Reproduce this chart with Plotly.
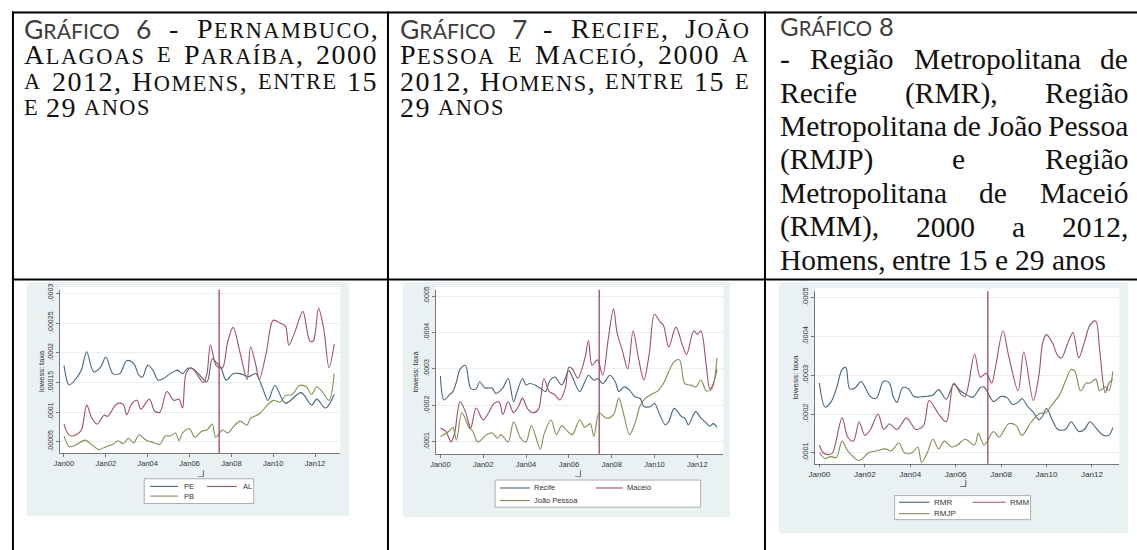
import plotly.graph_objects as go

W, H = 1137, 550

# ---------------------------------------------------------------- data
TICK_MONTHS = [0, 24, 48, 72, 96, 120, 144]
TICK_TEXT = ["Jan00", "Jan02", "Jan04", "Jan06", "Jan08", "Jan10", "Jan12"]
VLINE_MONTH = 89          # Jun 2007
Y_TITLE = "lowess: taxa"
X_TITLE = "_j"
UNIT = 1e-5               # series values below are in units of 1e-5

# Gráfico 6 : PE, AL, PB
PE_M = [0,3,7,10,13,17,21,24,28,32,36,40,43,45,48,51,54,57,61,65,68,71,74,77,82,85,87,90,93,97,101,106,110,114,117,121,127,136,142,145,150,155]
PE_V = [17.9,14.6,15.7,17.1,20.2,16.8,17.6,19.3,16.5,16.5,18.7,18.2,16.2,15.9,17.9,17.1,15.4,15.7,16.5,17.1,16.5,17.4,17.3,16.5,15.1,19.0,18.5,17.5,15.4,16.5,16.5,16.0,16.5,14.0,12.0,14.5,11.5,13.3,11.2,12.2,10.7,13.0]
AL_M = [0,2,4,7,10,13,16,19,23,25,29,31,34,36,39,42,44,49,52,55,59,63,66,68,70,73,76,80,82,84,87,89,91,94,97,101,105,107,110,112,116,120,124,127,129,133,137,141,143,146,149,152,155]
AL_V = [8.0,6.5,6.0,6.2,7.0,11.2,9.0,8.0,9.5,9.3,11.0,11.5,11.3,9.6,11.5,12.0,10.5,12.2,10.2,10.0,13.5,12.0,12.2,10.7,16.5,17.5,16.5,15.0,16.5,21.3,18.0,17.5,17.5,22.0,24.3,20.0,15.5,21.0,18.0,15.5,20.0,25.5,25.0,24.5,21.3,24.0,27.0,22.0,22.0,27.5,24.0,17.5,21.5]
PB_M = [0,3,7,12,16,20,24,28,31,34,37,40,43,47,50,55,58,61,64,66,68,72,75,79,82,85,87,91,94,97,101,105,107,112,116,120,124,127,131,135,139,142,145,148,152,155]
PB_V = [6.0,4.2,4.5,5.3,4.5,3.7,4.2,4.6,5.2,4.7,5.6,4.8,6.2,5.3,5.0,4.6,6.0,6.0,6.5,5.2,6.5,7.2,5.8,6.8,7.0,8.0,5.8,7.0,6.5,7.5,8.5,7.8,9.0,9.7,11.0,12.0,11.7,12.8,13.0,14.5,14.3,13.0,14.3,13.5,12.0,16.5]

# Gráfico 7 : Recife, Maceió, João Pessoa
REC_M = [0,2,5,7,9,11,14,17,20,22,25,29,31,33,35,38,41,43,46,48,50,53,56,59,61,64,68,72,74,78,81,83,86,88,91,95,98,100,103,106,109,112,114,118,120,123,126,128,131,135,137,139,143,146,149,151,153,155]
REC_V = [28.1,21.5,22.9,23.8,26.5,29.9,31.0,24.7,24.5,26.5,24.8,24.8,23.3,23.8,24.8,27.4,21.0,23.8,27.4,25.6,26.0,25.6,24.7,23.8,26.5,27.8,25.6,29.6,27.8,23.8,26.5,28.3,26.9,27.4,26.0,28.3,26.5,23.8,25.1,24.2,22.4,21.9,19.7,19.7,20.6,17.4,14.7,15.6,19.2,17.0,16.5,14.7,18.3,16.5,15.2,14.3,15.0,14.0]
MAC_M = [0,3,6,8,11,14,17,20,24,27,30,33,35,38,41,44,46,49,52,55,58,61,64,67,70,72,74,77,81,83,85,88,91,94,97,99,102,105,108,111,114,117,120,123,125,128,132,136,138,142,144,146,149,151,153,155]
MAC_V = [13.8,12.9,10.0,12.5,21.0,18.3,13.8,19.3,16.0,18.0,20.5,20.9,17.5,21.0,18.0,20.0,22.0,19.0,18.0,19.0,27.4,23.8,23.0,21.5,24.7,30.5,30.0,27.5,33.0,37.8,31.0,32.5,28.3,38.0,46.5,40.0,35.0,30.0,40.5,33.0,27.0,34.0,45.0,43.0,42.0,36.0,41.5,36.0,34.0,40.5,39.5,40.5,31.0,24.5,26.0,30.0]
JP_M = [0,5,7,9,12,16,18,21,26,29,32,34,38,41,45,48,51,56,58,62,65,68,71,74,78,81,84,86,89,93,97,100,103,106,109,112,115,120,122,125,131,134,137,141,143,146,149,152,155]
JP_V = [11.5,13.0,14.0,10.5,18.0,14.0,13.0,10.0,12.0,12.5,11.0,12.0,10.0,15.5,11.0,10.0,14.5,8.0,12.0,16.0,12.0,14.5,13.0,12.0,16.0,14.0,15.0,11.5,18.0,16.5,17.5,22.0,17.0,12.0,15.0,20.0,22.0,23.5,24.0,26.0,32.0,32.5,26.0,25.5,25.0,27.0,24.0,24.5,33.0]

# Gráfico 8 : RMR, RMM, RMJP
RMR_M = [0,3,6,9,12,14,16,19,22,27,30,34,37,39,41,44,47,50,55,60,63,67,71,74,77,81,85,87,90,92,96,99,102,105,107,110,113,116,118,120,123,126,130,133,137,140,143,146,150,153,155]
RMR_V = [28.0,21.8,23.0,26.6,31.5,32.0,26.5,26.8,28.4,24.5,24.0,28.5,28.0,24.5,23.0,26.8,26.5,24.5,24.5,24.9,26.3,23.8,27.7,26.2,25.2,24.3,26.8,27.0,24.5,23.2,24.5,24.3,22.5,23.0,24.0,22.0,20.5,18.5,19.5,21.5,18.5,16.0,16.0,18.0,15.5,16.0,18.0,16.5,14.5,14.5,16.5]
RMM_M = [0,2,5,7,12,15,18,21,24,27,31,34,37,41,46,51,55,58,63,67,71,75,77,82,85,88,91,93,97,100,105,108,113,116,118,120,123,126,128,131,134,137,140,143,146,148,151,153,155]
RMM_V = [12.0,10.0,9.5,10.0,19.0,14.0,13.0,18.0,14.5,16.0,20.0,16.0,17.5,16.0,19.0,16.0,17.0,23.5,20.0,18.0,28.0,25.0,24.5,35.5,29.5,30.5,28.0,32.0,41.5,35.0,26.0,36.0,23.5,30.0,38.5,40.5,38.5,35.0,34.5,38.0,41.0,34.5,38.5,43.0,44.0,37.0,25.5,28.0,29.0]
RMJP_M = [0,3,6,9,12,15,21,26,30,35,38,42,45,49,52,54,57,60,63,66,70,73,77,82,84,87,92,95,100,104,107,112,116,120,123,127,130,133,135,138,141,143,146,148,151,153,155]
RMJP_V = [10.0,8.5,9.0,8.8,13.0,10.5,8.0,10.0,10.5,11.0,10.5,12.5,10.0,10.0,11.5,7.5,10.0,13.5,11.0,13.0,11.5,12.0,13.5,12.0,15.0,12.0,15.5,14.0,17.5,17.0,14.5,18.0,20.0,20.5,22.5,25.0,28.5,31.5,31.0,26.0,28.0,28.0,29.0,26.0,27.0,26.0,31.0]

Y1_TICKS = [5e-5, 10e-5, 15e-5, 20e-5, 25e-5, 30e-5]
Y1_TEXT = [".00005", ".0001", ".00015", ".0002", ".00025", ".0003"]
Y2_TICKS = [10e-5, 20e-5, 30e-5, 40e-5, 50e-5]
Y2_TEXT = [".0001", ".0002", ".0003", ".0004", ".0005"]

# header texts (line breaks as in the reference)
HEAD1 = ["Gráfico 6 - Pernambuco,", "Alagoas e Paraíba, 2000", "a 2012, Homens, entre 15", "e 29 anos"]
HEAD2 = ["Gráfico  7 - Recife, João", "Pessoa e Maceió, 2000 a", "2012, Homens, entre 15 e", "29 anos"]
HEAD3 = ["Gráfico 8", "- Região Metropolitana de", "Recife (RMR), Região", "Metropolitana de João Pessoa",
         "(RMJP) e Região", "Metropolitana de Maceió", "(RMM), 2000 a 2012,", "Homens, entre 15 e 29 anos"]

# ---------------------------------------------------------------- style
BLUE, RED, OLIVE = "#46657F", "#9E5062", "#7F8F55"
VLINE_COLOR = "#A3475E"
PANEL_BG = "#E9F1F3"
GRID = "#E3EBEE"
AXIS = "#5A5A5A"
SANS = "Liberation Sans, Arial, sans-serif"
SERIF = "Liberation Serif, Times New Roman, serif"
CAPFONT = "Lato, Carlito, sans-serif"


def px(x):
    return x / W


def py(y):
    return 1 - y / H


fig = go.Figure()
shapes, annotations = [], []

# ---------------------------------------------------------------- table
def hline(x0, x1, y, w=2):
    shapes.append(dict(type="line", xref="paper", yref="paper", x0=px(x0), x1=px(x1),
                       y0=py(y), y1=py(y), line=dict(color="black", width=w), layer="above"))


def vline(x, y0, y1, w=2):
    shapes.append(dict(type="line", xref="paper", yref="paper", x0=px(x), x1=px(x),
                       y0=py(y0), y1=py(y1), line=dict(color="black", width=w), layer="above"))


hline(6, 1137, 6.5)
hline(6, 1137, 276.5)
vline(7, 5.5, 550)
vline(384, 5.5, 550)
vline(763, 5.5, 550)

TIMES = {' ': .25, ',': .25, '-': .333, '(': .333, ')': .333, '.': .25,
         'A': .722, 'B': .667, 'C': .667, 'D': .722, 'E': .611, 'F': .556, 'G': .722, 'H': .722,
         'I': .333, 'J': .389, 'K': .722, 'L': .611, 'M': .889, 'N': .722, 'O': .722, 'P': .556,
         'Q': .722, 'R': .667, 'S': .556, 'T': .611, 'U': .722, 'V': .722, 'W': .944, 'X': .722,
         'Y': .722, 'Z': .611, 'Á': .722, 'Ã': .722, 'Í': .333, 'Ó': .722,
         'a': .444, 'b': .5, 'c': .444, 'd': .5, 'e': .444, 'f': .333, 'g': .5, 'h': .5, 'i': .278,
         'j': .278, 'k': .5, 'l': .278, 'm': .778, 'n': .5, 'o': .5, 'p': .5, 'q': .5, 'r': .333,
         's': .389, 't': .278, 'u': .5, 'v': .5, 'w': .722, 'x': .5, 'y': .5, 'z': .444,
         'á': .444, 'ã': .444, 'í': .278, 'ó': .5}
for d in "0123456789":
    TIMES[d] = .5
LATO = {'G': .73, 'R': .64, 'Á': .68, 'F': .55, 'I': .28, 'C': .67, 'O': .78}
for d in "0123456789":
    LATO[d] = .58
SC = 0.8


def wwidth(word, size, smallcaps, table, ls):
    w = 0.0
    for ch in word:
        if smallcaps and ch.islower():
            w += table.get(ch.upper(), .6) * size * SC
        else:
            w += table.get(ch, .55) * size
    return w + ls * len(word)


def sc_markup(word, size, ls):
    out, buf = "", ""
    for ch in word:
        if ch.islower():
            buf += ch.upper()
        else:
            if buf:
                out += '<span style="font-size:%.1fpx">%s</span>' % (size * SC, buf)
                buf = ""
            out += ch
    if buf:
        out += '<span style="font-size:%.1fpx">%s</span>' % (size * SC, buf)
    if ls:
        out = '<span style="letter-spacing:%.1fpx">%s</span>' % (ls, out)
    return out


def layout_column(lines, left, right, ys, size, smallcaps, justify_flags, capsize, ls):
    for li, (text, yc, just) in enumerate(zip(lines, ys, justify_flags)):
        words = text.split()
        specs = []
        for wi, wd in enumerate(words):
            is_cap = li == 0 and wi < 2 and words[0] == "Gráfico"
            if is_cap:
                specs.append((wd, capsize, True, LATO, CAPFONT, "#3c3c3c", 0.0))
            else:
                specs.append((wd, size, smallcaps, TIMES, SERIF, "#111111", ls))
        widths = [wwidth(s[0], s[1], s[2], s[3], s[6]) for s in specs]
        if just and len(words) > 1:
            gap = (right - left - sum(widths)) / (len(words) - 1)
        else:
            gap = 0.25 * size
        x = left
        for (wd, sz, scp, tab, fam, col, l), wdt in zip(specs, widths):
            txt = sc_markup(wd, sz, l) if scp else wd
            annotations.append(dict(text=txt, x=px(x), y=py(yc), xref="paper", yref="paper",
                                    xanchor="left", yanchor="middle", showarrow=False, borderpad=0,
                                    font=dict(family=fam, size=sz, color=col)))
            x += wdt + gap


layout_column(HEAD1, 17, 373, [23, 49.5, 76, 102.5], 28, True, [True, True, True, False], 26.5, 1.5)
layout_column(HEAD2, 395, 747, [23, 49.5, 76, 102.5], 28, True, [True, True, True, False], 26.5, 1.5)
layout_column(HEAD3, 777, 1127, [20, 54, 88, 121, 155, 189, 223, 257], 29.5, False,
              [False, True, True, True, True, True, True, False], 25.5, 0.0)

# ---------------------------------------------------------------- panels
PANELS = [
    dict(bg=(21, 279, 345, 516), x0=58.3, s=1.7528, plot_y=(287, 452), yr=(3.117e-5, 30.617e-5),
         yt=Y1_TICKS, ytt=Y1_TEXT, ytitle_x=35.7, xtitle=(195.5, 471.7), fs=7.5,
         leg_box=(139, 478, 249, 503), leg_rows=(485.7, 495.5), leg_lines=((145, 173), (202, 232)),
         leg_lab=(178, 237.5),
         series=[("PE", PE_M, PE_V, BLUE), ("AL", AL_M, AL_V, RED), ("PB", PB_M, PB_V, OLIVE)]),
    dict(bg=(399, 279, 728, 517), x0=436.7, s=1.7938, plot_y=(287, 453), yr=(6.66e-5, 51.71e-5),
         yt=Y2_TICKS, ytt=Y2_TEXT, ytitle_x=411.7, xtitle=(575, 471.7), fs=7.5,
         leg_box=(491.7, 479.3, 698.3, 506.7), leg_rows=(487.3, 500), leg_lines=((496.7, 526.7), (593.3, 620)),
         leg_lab=(530, 623.3),
         series=[("Recife", REC_M, REC_V, BLUE), ("Maceió", MAC_M, MAC_V, RED),
                 ("João Pessoa", JP_M, JP_V, OLIVE)]),
    dict(bg=(777, 279, 1128, 533), x0=817.7, s=1.9028, plot_y=(288.3, 462.7), yr=(7.19e-5, 51.71e-5),
         yt=Y2_TICKS, ytt=Y2_TEXT, ytitle_x=793.3, xtitle=(961.7, 481), fs=8,
         leg_box=(893.3, 495, 1030, 519.3), leg_rows=(501.7, 513.3), leg_lines=((897.7, 928.3), (971.7, 1005)),
         leg_lab=(931.7, 1008.3),
         series=[("RMR", RMR_M, RMR_V, BLUE), ("RMM", RMM_M, RMM_V, RED), ("RMJP", RMJP_M, RMJP_V, OLIVE)]),
]

XR = (-2.5, 158.5)
lay_axes = {}
for k, P in enumerate(PANELS, start=1):
    bx0, by0, bx1, by1 = P["bg"]
    shapes.append(dict(type="rect", xref="paper", yref="paper", x0=px(bx0), x1=px(bx1), y0=py(by1), y1=py(by0),
                       fillcolor=PANEL_BG, line=dict(width=0), layer="below"))
    xl = P["x0"] + XR[0] * P["s"]
    xr = P["x0"] + XR[1] * P["s"]
    yt_, yb_ = P["plot_y"]
    shapes.append(dict(type="rect", xref="paper", yref="paper", x0=px(xl), x1=px(xr), y0=py(yb_), y1=py(yt_ - 3),
                       fillcolor="white", line=dict(width=0), layer="below"))
    sx = "" if k == 1 else str(k)
    lay_axes["xaxis" + sx] = dict(domain=[px(xl), px(xr)], range=list(XR), anchor="y" + sx,
                                  tickvals=TICK_MONTHS, ticktext=TICK_TEXT, showgrid=False, zeroline=False,
                                  showline=True, linecolor=AXIS, linewidth=0.8, ticks="outside", ticklen=3,
                                  tickwidth=0.8, tickcolor=AXIS, tickfont=dict(family=SANS, size=P["fs"], color="#333"),
                                  fixedrange=True)
    lay_axes["yaxis" + sx] = dict(domain=[py(yb_), py(yt_)], range=list(P["yr"]), anchor="x" + sx,
                                  tickvals=P["yt"], ticktext=P["ytt"], tickangle=-90, showgrid=True,
                                  gridcolor=GRID, gridwidth=0.8, zeroline=False, showline=True, linecolor=AXIS,
                                  linewidth=0.8, ticks="outside", ticklen=3, tickwidth=0.8, tickcolor=AXIS,
                                  tickfont=dict(family=SANS, size=P["fs"] - 0.5, color="#333"), fixedrange=True)
    for name, mm, vv, col in P["series"]:
        fig.add_trace(go.Scatter(x=mm, y=[v * UNIT for v in vv], mode="lines", name=name,
                                 line=dict(color=col, width=1.1, shape="spline", smoothing=0.9),
                                 xaxis="x" + sx, yaxis="y" + sx, showlegend=False, hoverinfo="skip"))
    shapes.append(dict(type="line", xref="x" + sx, yref="y" + sx + " domain", x0=VLINE_MONTH, x1=VLINE_MONTH,
                       y0=0, y1=1, line=dict(color=VLINE_COLOR, width=1.3), layer="above"))
    annotations.append(dict(text=Y_TITLE, x=px(P["ytitle_x"]), y=py((yt_ + yb_) / 2), xref="paper", yref="paper",
                            textangle=-90, showarrow=False, xanchor="center", yanchor="middle",
                            font=dict(family=SANS, size=P["fs"], color="#333")))
    annotations.append(dict(text=X_TITLE, x=px(P["xtitle"][0]), y=py(P["xtitle"][1]), xref="paper", yref="paper",
                            showarrow=False, xanchor="center", yanchor="middle",
                            font=dict(family=SANS, size=P["fs"] + 0.5, color="#333")))
    lx0, ly0, lx1, ly1 = P["leg_box"]
    shapes.append(dict(type="rect", xref="paper", yref="paper", x0=px(lx0), x1=px(lx1), y0=py(ly1), y1=py(ly0),
                       fillcolor="white", line=dict(color="#9a9a9a", width=0.8), layer="above"))
    slots = [(0, 0), (0, 1), (1, 0)]
    for (name, mm, vv, col), (row, c) in zip(P["series"], slots):
        yy = P["leg_rows"][row]
        a, b = P["leg_lines"][c]
        shapes.append(dict(type="line", xref="paper", yref="paper", x0=px(a), x1=px(b), y0=py(yy), y1=py(yy),
                           line=dict(color=col, width=1.1), layer="above"))
        annotations.append(dict(text=name, x=px(P["leg_lab"][c]), y=py(yy), xref="paper", yref="paper",
                                showarrow=False, xanchor="left", yanchor="middle", borderpad=0,
                                font=dict(family=SANS, size=P["fs"], color="#333")))

fig.update_layout(width=W, height=H, margin=dict(l=0, r=0, t=0, b=0), paper_bgcolor="white",
                  plot_bgcolor="rgba(0,0,0,0)", showlegend=False, shapes=shapes, annotations=annotations,
                  **lay_axes)
fig.write_html("out.html", config={"displayModeBar": False, "staticPlot": True},
               post_script="document.documentElement.style.margin='0';document.body.style.margin='0';"
                           "document.body.style.padding='0';document.documentElement.style.overflow='hidden';"
                           "var gd=document.getElementById('{plot_id}');gd.style.position='absolute';"
                           "gd.style.left='0px';gd.style.top='0px';")
